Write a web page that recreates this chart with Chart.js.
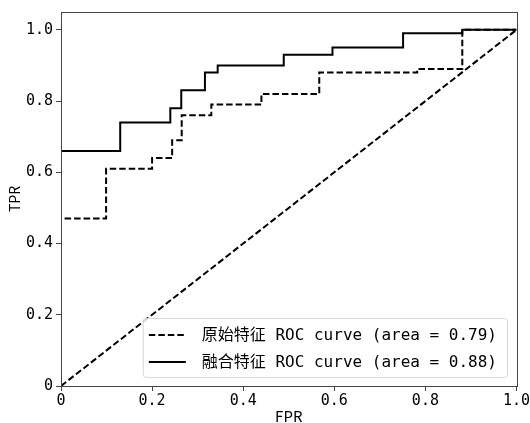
<!DOCTYPE html>
<html>
<head>
<meta charset="utf-8">
<script src="https://cdn.jsdelivr.net/npm/chart.js@4/dist/chart.umd.min.js"></script>
<style>
  html, body { margin: 0; padding: 0; background: #fff; }
  #wrap { width: 530px; height: 423px; }
</style>
</head>
<body>
<div id="wrap"><canvas id="c" width="530" height="423"></canvas></div>
<script>
// ---- Data ----
const seriesLabels = ['原始特征 ROC curve (area = 0.79)', '融合特征 ROC curve (area = 0.88)'];

const fprOriginal = [0, 0, 0.099, 0.099, 0.20, 0.20, 0.244, 0.244, 0.265, 0.265, 0.33, 0.33, 0.44, 0.44, 0.567, 0.567, 0.782, 0.782, 0.881, 0.881, 1.0];
const tprOriginal = [0, 0.47, 0.47, 0.61, 0.61, 0.64, 0.64, 0.69, 0.69, 0.76, 0.76, 0.79, 0.79, 0.82, 0.82, 0.88, 0.88, 0.89, 0.89, 1.0, 1.0];

const fprFused = [0, 0, 0.13, 0.13, 0.24, 0.24, 0.264, 0.264, 0.316, 0.316, 0.344, 0.344, 0.489, 0.489, 0.596, 0.596, 0.751, 0.751, 0.881, 0.881, 1.0];
const tprFused = [0, 0.66, 0.66, 0.74, 0.74, 0.78, 0.78, 0.83, 0.83, 0.88, 0.88, 0.90, 0.90, 0.93, 0.93, 0.95, 0.95, 0.99, 0.99, 1.0, 1.0];

const chanceX = [0, 1];
const chanceY = [0, 1];

const xTickValues = [0, 0.2, 0.4, 0.6, 0.8, 1.0];
const xTickLabels = ['0', '0.2', '0.4', '0.6', '0.8', '1.0'];
const yTickValues = [0, 0.2, 0.4, 0.6, 0.8, 1.0];
const yTickLabels = ['0', '0.2', '0.4', '0.6', '0.8', '1.0'];

const xTitle = 'FPR';
const yTitle = 'TPR';

// ---- Helpers ----
const toPoints = (xs, ys) => xs.map((x, i) => ({ x: x, y: ys[i] }));
const tickFont = { family: "'DejaVu Sans Mono', 'Noto Sans CJK SC', sans-serif", size: 15 };
const xTitleFont = { family: "'Noto Sans CJK SC', sans-serif", size: 15, lineHeight: 0.9 };
const yTitleFont = { family: "'Noto Sans CJK SC', sans-serif", size: 14, lineHeight: 1.1 };
const legendFontStr = "16px 'DejaVu Sans Mono', 'Noto Sans CJK SC', sans-serif";
const axisColor = '#444';

const framePlugin = {
  id: 'frame',
  afterDatasetsDraw(chart) {
    const { ctx, chartArea: a } = chart;
    ctx.save();
    ctx.strokeStyle = axisColor;
    ctx.lineWidth = 1;
    ctx.setLineDash([]);
    ctx.strokeRect(Math.round(a.left) + 0.5, Math.round(a.top) + 0.5,
                   Math.round(a.right - a.left), Math.round(a.bottom - a.top));
    ctx.restore();
  }
};

const legendPlugin = {
  id: 'insideLegend',
  afterDraw(chart) {
    const { ctx, chartArea: a } = chart;
    const items = chart.data.datasets.filter(d => d.label);
    ctx.save();
    ctx.font = legendFontStr;
    const textW = Math.max(...items.map(d => ctx.measureText(d.label).width));
    const sample = 37, padL = 6, gap = 16, padR = 10;
    const w = padL + sample + gap + textW + padR;
    const rowH = 27, padT = 17, padB = 15;
    const h = padT + rowH * (items.length - 1) + padB;
    const right = a.right - 9.5, bottom = a.bottom - 9;
    const left = right - w, top = bottom - h;
    ctx.beginPath();
    if (ctx.roundRect) ctx.roundRect(left + 0.5, top + 0.5, w, h, 3); else ctx.rect(left + 0.5, top + 0.5, w, h);
    ctx.fillStyle = 'rgba(255,255,255,0.85)';
    ctx.fill();
    ctx.strokeStyle = '#d6d6d6';
    ctx.lineWidth = 1;
    ctx.stroke();
    items.forEach((d, i) => {
      const y = top + padT + i * rowH;
      ctx.beginPath();
      ctx.setLineDash(d.borderDash || []);
      ctx.strokeStyle = d.borderColor;
      ctx.lineWidth = 1.8;
      ctx.moveTo(left + padL, y);
      ctx.lineTo(left + padL + sample, y);
      ctx.stroke();
      ctx.setLineDash([]);
      ctx.fillStyle = '#000';
      ctx.textBaseline = 'middle';
      ctx.textAlign = 'left';
      ctx.fillText(d.label, left + padL + sample + gap, y + 1);
    });
    ctx.restore();
  }
};

new Chart(document.getElementById('c'), {
  type: 'line',
  data: {
    datasets: [
      {
        label: seriesLabels[0],
        data: toPoints(fprOriginal, tprOriginal),
        borderColor: '#000', borderWidth: 2, borderDash: [6.5, 3],
        pointRadius: 0, fill: false, tension: 0
      },
      {
        label: seriesLabels[1],
        data: toPoints(fprFused, tprFused),
        borderColor: '#000', borderWidth: 2,
        pointRadius: 0, fill: false, tension: 0
      },
      {
        label: '',
        data: toPoints(chanceX, chanceY),
        borderColor: '#000', borderWidth: 2, borderDash: [6.5, 3],
        pointRadius: 0, fill: false, tension: 0
      }
    ]
  },
  options: {
    responsive: false,
    animation: false,
    devicePixelRatio: 1,
    layout: { padding: { left: 0, right: 13.5, top: 12, bottom: 0 } },
    plugins: { legend: { display: false }, tooltip: { enabled: false } },
    scales: {
      x: {
        type: 'linear', min: 0, max: 1,
        afterBuildTicks: s => { s.ticks = xTickValues.map(v => ({ value: v })); },
        afterFit: s => { s.height = 37; s.paddingLeft = 0; s.paddingRight = 0; },
        ticks: {
          color: '#000', font: tickFont, padding: 1, maxRotation: 0, autoSkip: false,
          callback: (v) => { const i = xTickValues.indexOf(v); return i >= 0 ? xTickLabels[i] : ''; }
        },
        grid: { display: true, drawOnChartArea: false, drawTicks: true, tickLength: 5, color: axisColor },
        border: { display: false },
        title: { display: true, text: xTitle, color: '#000', font: xTitleFont, padding: { top: 0, bottom: 0 } }
      },
      y: {
        type: 'linear', min: 0, max: 1.05,
        afterBuildTicks: s => { s.ticks = yTickValues.map(v => ({ value: v })); },
        afterFit: s => { s.width = 61; s.paddingTop = 0; s.paddingBottom = 0; },
        ticks: {
          color: '#000', font: tickFont, padding: 3, autoSkip: false,
          callback: (v) => { const i = yTickValues.indexOf(v); return i >= 0 ? yTickLabels[i] : ''; }
        },
        grid: { display: true, drawOnChartArea: false, drawTicks: true, tickLength: 5, color: axisColor },
        border: { display: false },
        title: { display: true, text: yTitle, color: '#000', font: yTitleFont, padding: { top: 7, bottom: 0 } }
      }
    }
  },
  plugins: [framePlugin, legendPlugin]
});
</script>
</body>
</html>
